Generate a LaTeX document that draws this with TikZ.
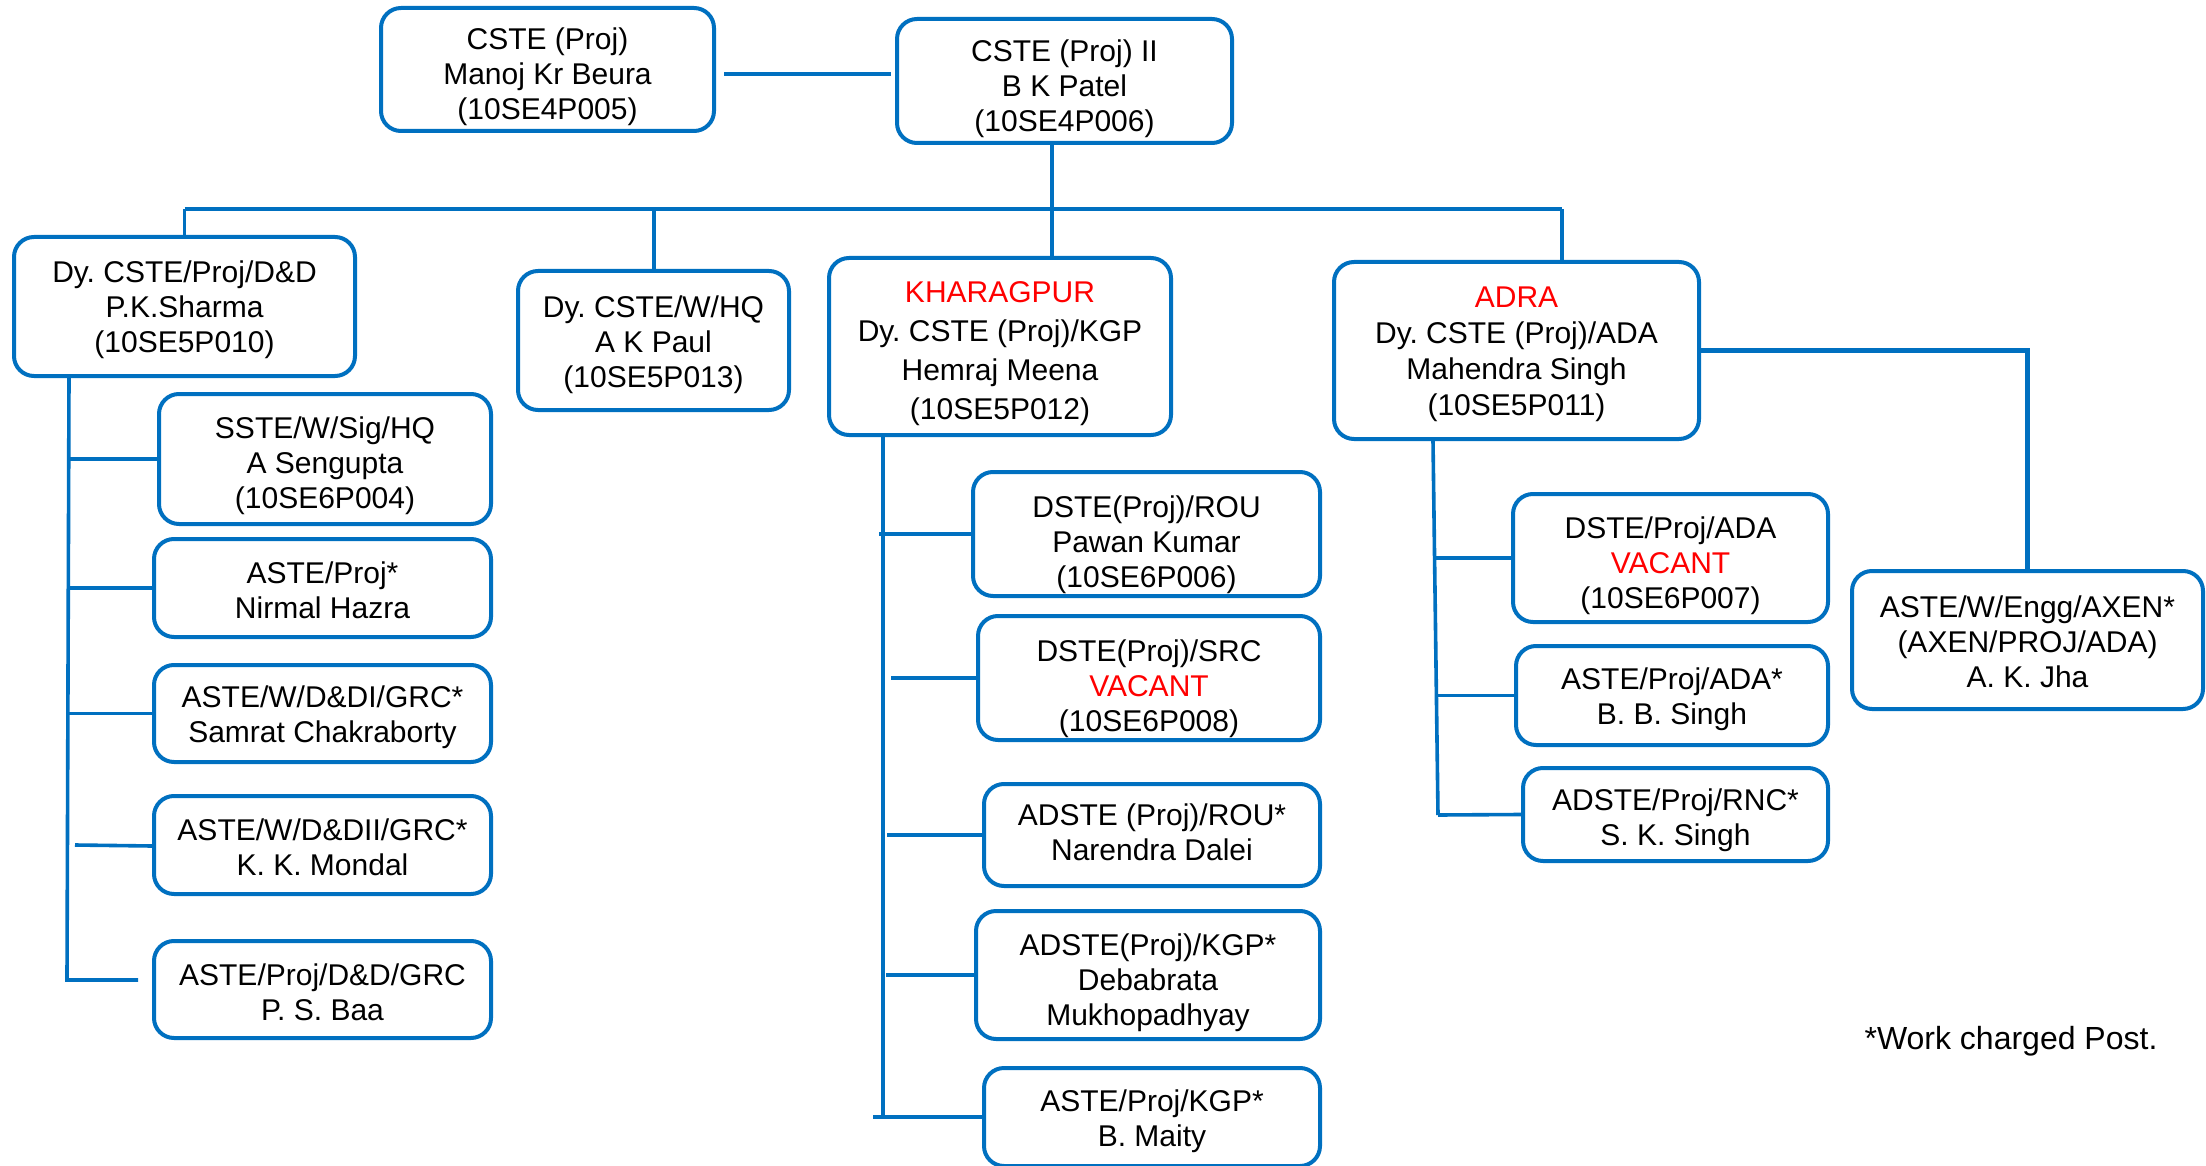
\documentclass[tikz,border=0pt]{standalone}
\usepackage{fontspec}
\setmainfont{Liberation Sans}
\frenchspacing
\definecolor{orgblue}{RGB}{0,112,192}
\definecolor{orgred}{RGB}{255,0,0}
% \orgbox[text style]{name}{x1}{y1}{x2}{y2}{text shift down, px}{text}
\newcommand{\orgbox}[8][]{%
  \pgfmathsetmacro{\cx}{(#3+#5)/2}\pgfmathsetmacro{\cy}{(#4+#6)/2}%
  \pgfmathsetmacro{\bw}{(#5-#3)*0.5}\pgfmathsetmacro{\bh}{(#6-#4)*0.5}%
  \pgfmathsetmacro{\ts}{-(#7)*0.5}%
  \node[box,minimum width=\bw pt,minimum height=\bh pt] (#2) at (\cx,\cy) {};
  \node[boxtext,#1] (#2-t) at ([yshift=\ts pt]#2.center) {#8};}
\begin{document}
\begin{tikzpicture}[x=0.5pt,y=-0.5pt,
  box/.style={draw=orgblue, line width=2pt, rounded corners=10pt, inner sep=0pt, fill=white},
  boxtext/.style={align=center, inner sep=0pt, font=\fontsize{15}{17.5}\selectfont},
  bigtext/.style={font=\fontsize{15}{19.5}\selectfont},
  adatext/.style={font=\fontsize{15}{18}\selectfont},
  notetext/.style={inner sep=0pt, font=\fontsize{16}{18}\selectfont},
  conn/.style={draw=orgblue, line width=1.8pt},
  heavy/.style={draw=orgblue, line width=2.4pt}]
\useasboundingbox[fill=white] (0,0) rectangle (2206,1166);

% top
\orgbox{cste1}{381}{8}{714}{131}{7}{CSTE (Proj)\\Manoj Kr Beura\\(10SE4P005)}
\orgbox{cste2}{897}{19}{1232}{143}{8}{CSTE (Proj) II\\B K Patel\\(10SE4P006)}

% second level
\orgbox{dd}{14}{237}{355}{376}{3}{Dy. CSTE/Proj/D\&D\\P.K.Sharma\\(10SE5P010)}
\orgbox{hq}{518}{271}{789}{410}{4}{Dy. CSTE/W/HQ\\A K Paul\\(10SE5P013)}
\orgbox[bigtext]{kgp}{829}{258}{1171}{435}{7}{\textcolor{orgred}{KHARAGPUR}\\Dy. CSTE (Proj)/KGP\\Hemraj Meena\\(10SE5P012)}
\orgbox[adatext]{ada}{1334}{262}{1699}{439}{4}{\textcolor{orgred}{ADRA}\\Dy. CSTE (Proj)/ADA\\Mahendra Singh\\(10SE5P011)}
\orgbox{axen}{1852}{571}{2203}{709}{2}{ASTE/W/Engg/AXEN*\\(AXEN/PROJ/ADA)\\A. K. Jha}

% D&D column
\orgbox{sste}{159}{394}{491}{524}{7}{SSTE/W/Sig/HQ\\A Sengupta\\(10SE6P004)}
\orgbox{asteA}{154}{539}{491}{637}{2}{ASTE/Proj*\\Nirmal Hazra}
\orgbox{asteB}{154}{665}{491}{762}{4}{ASTE/W/D\&DI/GRC*\\Samrat Chakraborty}
\orgbox{asteC}{154}{796}{491}{894}{2}{ASTE/W/D\&DII/GRC*\\K. K. Mondal}
\orgbox{asteD}{154}{941}{491}{1038}{3}{ASTE/Proj/D\&D/GRC\\P. S. Baa}

% KGP column
\orgbox{rou}{973}{472}{1320}{596}{11}{DSTE(Proj)/ROU\\Pawan Kumar\\(10SE6P006)}
\orgbox{src}{978}{616}{1320}{740}{11}{DSTE(Proj)/SRC\\\textcolor{orgred}{VACANT}\\(10SE6P008)}
\orgbox{adrou}{984}{784}{1320}{886}{-3}{ADSTE (Proj)/ROU*\\Narendra Dalei}
\orgbox{adkgp}{976}{911}{1320}{1039}{8}{ADSTE(Proj)/KGP*\\Debabrata\\Mukhopadhyay}
\orgbox{astekgp}{984}{1068}{1320}{1166}{4}{ASTE/Proj/KGP*\\B. Maity}

% ADA column
\orgbox{dada}{1513}{494}{1828}{622}{8}{DSTE/Proj/ADA\\\textcolor{orgred}{VACANT}\\(10SE6P007)}
\orgbox{aada}{1516}{646}{1828}{745}{4}{ASTE/Proj/ADA*\\B. B. Singh}
\orgbox{rnc}{1523}{768}{1828}{861}{6}{ADSTE/Proj/RNC*\\S. K. Singh}

\node[notetext] (note) at (2011,1041) {*Work charged Post.};

% helper coordinates
\coordinate (ytop) at (0,74);
\coordinate (ybus) at (0,209);
\coordinate (xmain) at (1052,0);
\coordinate (xhq) at (654,0);
\coordinate (xada) at (1562,0);
\coordinate (xdd) at (69,0);
\coordinate (ddend) at (67,980);
\coordinate (ddtip) at (138,980);
\coordinate (kgpend) at (883,1118);
\coordinate (adaend) at (1438,815);

% top connectors
\draw[heavy] ([xshift=4pt]cste1.east |- ytop) -- ([xshift=-2pt]cste2.west |- ytop);
\draw[conn] (cste2.south -| xmain) -- (kgp.north -| xmain);
\draw[heavy] (dd.north |- ybus) -- (xada |- ybus);
\draw[conn] (dd.north |- ybus) -- (dd.north);
\draw[conn] (hq.north -| xhq) -- (xhq |- ybus);
\draw[conn] (ada.north -| xada) -- (xada |- ybus);
\draw[heavy] (ada.east) -- (ada.east -| axen.north) -- (axen.north);

% D&D column
\draw[conn] (dd.south -| xdd) -- (ddend) -- (ddtip);
\draw[conn] (sste.west) -- (sste.west -| xdd);
\draw[conn] (asteA.west) -- (asteA.west -| xdd);
\draw[conn] (asteB.west) -- (asteB.west -| xdd);
\draw[conn] ([yshift=-0.5pt]asteC.west) -- ([xshift=3pt]asteC.west -| xdd);

% KGP column
\draw[conn] (kgp.south -| kgpend) -- (kgpend);
\draw[conn] (rou.west) -- ([xshift=-2pt]rou.west -| kgpend);
\draw[conn] (src.west) -- ([xshift=4pt]src.west -| kgpend);
\draw[conn] (adrou.west) -- ([xshift=2pt]adrou.west -| kgpend);
\draw[conn] (adkgp.west) -- ([xshift=1.5pt]adkgp.west -| kgpend);
\draw[conn] (astekgp.west) -- ([xshift=-5pt]astekgp.west -| kgpend);

% ADA column
\draw[conn] (ada.south -| 1433,0) -- (adaend);
\draw[conn] (dada.west) -- (dada.west -| 1435,0);
\draw[conn] (aada.west) -- (aada.west -| 1437,0);
\draw[conn] (rnc.west) -- (adaend);
\end{tikzpicture}
\end{document}
